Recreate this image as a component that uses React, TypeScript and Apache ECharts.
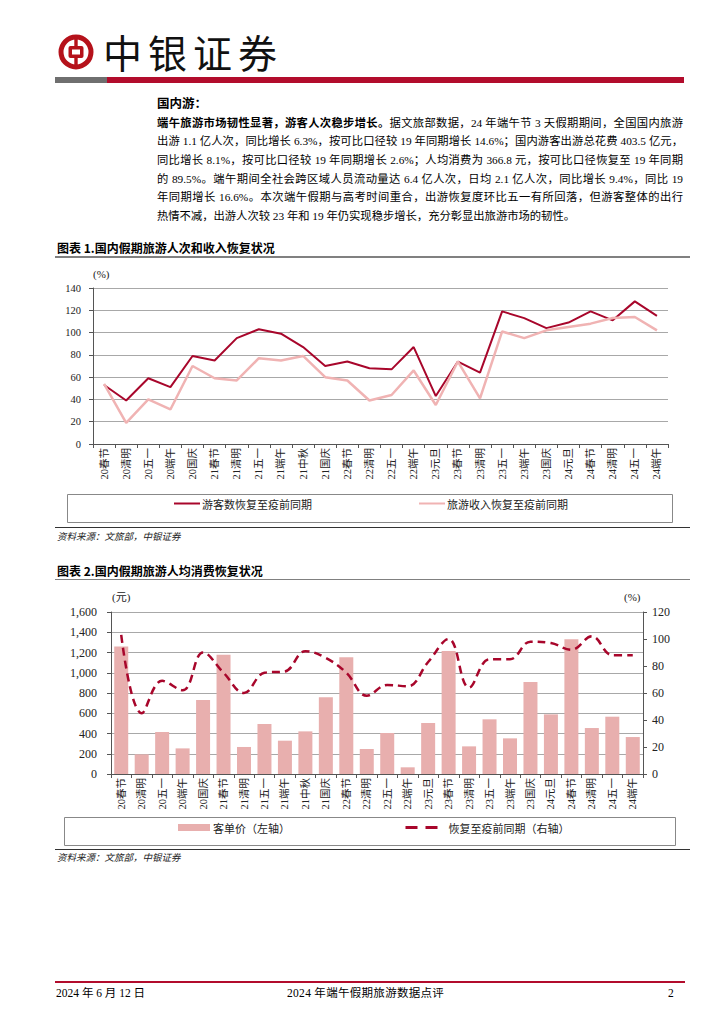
import React, { useEffect, useRef } from "react";
import * as echarts from "echarts";

const categories = ["20春节","20清明","20五一","20端午","20国庆","21春节","21清明","21五一","21端午","21中秋","21国庆","22春节","22清明","22五一","22端午","23元旦","23春节","23清明","23五一","23端午","23国庆","24元旦","24春节","24清明","24五一","24端午"];
const touristRecovery = [53,39,59,51,79,75,95,103,99,87,70,74,68,67,87,43,74,64,119,113,104,109,119,111,128,115];
const revenueRecovery = [54,19,40,31,70,59,57,77,75,79,60,57,39,44,66,35,74,41,101,95,102,105,108,113,114,102];
const perCapitaSpend = [1260,194,415,253,731,1179,267,494,329,421,757,1152,247,405,66,504,1215,273,540,352,909,589,1331,454,566,365];
const spendRecovery = [103,45,69,62,90,75,60,75,76,91,86,75,58,66,65,83,100,64,85,85,98,97,92,102,88,88];
const chart1Ticks = { min: 0, max: 140, interval: 20 };
const chart2LeftTicks = { min: 0, max: 1600, interval: 200 };
const chart2RightTicks = { min: 0, max: 120, interval: 20 };

const FONT = "'Liberation Serif', 'Noto Sans CJK SC', serif";
const CJK = "'Noto Sans CJK SC', sans-serif";
const DARK = "#A8062B";
const LIGHT = "#F0B3B3";
const BAR = "#E8AFAE";

const paraLines = [
  "出游 1.1 亿人次，同比增长 6.3%，按可比口径较 19 年同期增长 14.6%；国内游客出游总花费 403.5 亿元，",
  "同比增长 8.1%，按可比口径较 19 年同期增长 2.6%；人均消费为 366.8 元，按可比口径恢复至 19 年同期",
  "的 89.5%。端午期间全社会跨区域人员流动量达 6.4 亿人次，日均 2.1 亿人次，同比增长 9.4%，同比 19",
  "年同期增长 16.6%。本次端午假期与高考时间重合，出游恢复度环比五一有所回落，但游客整体的出行",
];

function Chart1() {
  const ref = useRef<HTMLDivElement>(null);
  useEffect(() => {
    const chart = echarts.init(ref.current!, null, { renderer: "svg" });
    chart.setOption({
      animation: false,
      grid: { left: 93, right: 56, top: 26, bottom: 84, containLabel: false, outerBoundsMode: "none" },
      xAxis: {
        type: "category",
        data: categories,
        boundaryGap: true,
        axisLine: { lineStyle: { color: "#555", width: 1 } },
        axisTick: { show: true, interval: 0, length: 4, lineStyle: { color: "#555" } },
        axisLabel: { interval: 0, rotate: 90, margin: 4, fontSize: 10.5, color: "#222", fontFamily: FONT },
      },
      yAxis: {
        type: "value",
        ...chart1Ticks,
        axisLine: { show: true, lineStyle: { color: "#555" } },
        axisTick: { show: true, length: 4, lineStyle: { color: "#555" } },
        axisLabel: { fontSize: 10.5, color: "#222", margin: 12, fontFamily: FONT },
        splitLine: { lineStyle: { color: "#a8a8a8", width: 1 } },
      },
      legend: [
        {
          data: ["游客数恢复至疫前同期"], left: 173, top: 236, padding: 0,
          itemWidth: 26, itemHeight: 12, itemStyle: { opacity: 0 },
          textStyle: { fontSize: 11, color: "#222", fontFamily: CJK, padding: [0, 0, 0, -3] },
        },
        {
          data: ["旅游收入恢复至疫前同期"], left: 418, top: 236, padding: 0,
          itemWidth: 26, itemHeight: 12, itemStyle: { opacity: 0 },
          textStyle: { fontSize: 11, color: "#222", fontFamily: CJK, padding: [0, 0, 0, -3] },
        },
      ],
      graphic: [
        { type: "rect", left: 65, top: 230, shape: { width: 605, height: 28 }, style: { fill: "none", stroke: "#888", lineWidth: 1 }, silent: true },
        { type: "text", left: 93, top: 6, style: { text: "(%)", fontSize: 11, fill: "#222", fontFamily: FONT } },
      ],
      series: [
        { name: "游客数恢复至疫前同期", type: "line", data: touristRecovery, symbol: "none", lineStyle: { color: DARK, width: 2 }, itemStyle: { color: DARK } },
        { name: "旅游收入恢复至疫前同期", type: "line", data: revenueRecovery, symbol: "none", lineStyle: { color: LIGHT, width: 2.5 }, itemStyle: { color: LIGHT } },
      ],
    });
    return () => chart.dispose();
  }, []);
  return <div ref={ref} style={{ position: "absolute", left: 0, top: 262, width: 724, height: 266 }} />;
}

function Chart2() {
  const ref = useRef<HTMLDivElement>(null);
  useEffect(() => {
    const chart = echarts.init(ref.current!, null, { renderer: "svg" });
    chart.setOption({
      animation: false,
      grid: { left: 111, right: 81, top: 32, bottom: 74, containLabel: false, outerBoundsMode: "none" },
      xAxis: {
        type: "category",
        data: categories,
        boundaryGap: true,
        axisLine: { lineStyle: { color: "#555", width: 1 } },
        axisTick: { show: true, interval: 0, length: 4, lineStyle: { color: "#555" } },
        axisLabel: { interval: 0, rotate: 90, margin: 4, fontSize: 10.5, color: "#222", fontFamily: FONT },
      },
      yAxis: [
        {
          type: "value",
          ...chart2LeftTicks,
          axisLine: { show: true, lineStyle: { color: "#555" } },
          axisTick: { show: true, length: 4, lineStyle: { color: "#555" } },
          axisLabel: {
            fontSize: 12, color: "#222", margin: 14, fontFamily: FONT,
            formatter: (v: number) => v.toLocaleString("en-US"),
          },
          splitLine: { lineStyle: { color: "#a8a8a8", width: 1 } },
        },
        {
          type: "value",
          ...chart2RightTicks,
          position: "right",
          axisLine: { show: true, lineStyle: { color: "#555" } },
          axisTick: { show: true, length: 4, lineStyle: { color: "#555" } },
          axisLabel: { fontSize: 12, color: "#222", margin: 9, fontFamily: FONT },
          splitLine: { show: false },
        },
      ],
      legend: [
        {
          data: [{ name: "客单价（左轴）", icon: "rect" }], left: 178, top: 242, padding: 0,
          itemWidth: 32, itemHeight: 7,
          textStyle: { fontSize: 11, color: "#222", fontFamily: CJK, padding: [0, 0, 0, -2] },
        },
        {
          data: ["恢复至疫前同期（右轴）"], left: 404, top: 242, padding: 0,
          itemWidth: 36, itemHeight: 7, itemStyle: { opacity: 0 },
          lineStyle: { type: [12, 8], width: 3 },
          textStyle: { fontSize: 11, color: "#222", fontFamily: CJK, padding: [0, 0, 0, 2] },
        },
      ],
      graphic: [
        { type: "rect", left: 62, top: 235, shape: { width: 611, height: 28 }, style: { fill: "none", stroke: "#888", lineWidth: 1 }, silent: true },
        { type: "text", left: 112, top: 11, style: { text: "(元)", fontSize: 11, fill: "#222", fontFamily: FONT } },
        { type: "text", left: 624, top: 11, style: { text: "(%)", fontSize: 11, fill: "#222", fontFamily: FONT } },
      ],
      series: [
        { name: "客单价（左轴）", type: "bar", data: perCapitaSpend, yAxisIndex: 0, barWidth: 14, itemStyle: { color: BAR } },
        {
          name: "恢复至疫前同期（右轴）", type: "line", data: spendRecovery, yAxisIndex: 1,
          symbol: "none", smooth: 0.4,
          lineStyle: { color: DARK, width: 2.5, type: [8, 5] }, itemStyle: { color: DARK },
        },
      ],
    });
    return () => chart.dispose();
  }, []);
  return <div ref={ref} style={{ position: "absolute", left: 0, top: 580, width: 724, height: 268 }} />;
}

function Logo() {
  return (
    <svg width={40} height={40} viewBox="0 0 40 40" style={{ position: "absolute", left: 56, top: 32 }}>
      <circle cx={20} cy={20} r={15} fill="none" stroke="#B5121B" strokeWidth={5} />
      <rect x={18.3} y={3} width={3.4} height={34} fill="#B5121B" />
      <rect x={12.5} y={14} width={15} height={12} rx={2} fill="#B5121B" />
      <rect x={16} y={17.5} width={8} height={5} fill="#fff" />
    </svg>
  );
}

export default function App() {
  const body: React.CSSProperties = { fontFamily: FONT, color: "#000" };
  return (
    <div style={{ position: "absolute", left: 0, top: 0, width: 724, height: 1024, background: "#fff", overflow: "hidden", ...body }}>
      <Logo />
      <div style={{ position: "absolute", left: 103, top: 27, fontFamily: CJK, fontSize: 39, letterSpacing: 6, lineHeight: "48px", color: "#111" }}>中银证券</div>
      <div style={{ position: "absolute", left: 55, top: 77, width: 52, height: 6, background: "#6f6f6f" }} />
      <div style={{ position: "absolute", left: 107, top: 77, width: 577, height: 6, background: "#B20C2C" }} />

      <div style={{ position: "absolute", left: 157, top: 94, fontFamily: CJK, fontWeight: 700, fontSize: 12.5, lineHeight: "18px" }}>国内游：</div>
      <div style={{ position: "absolute", left: 157, top: 113, width: 526, fontSize: 11.3, lineHeight: "18px", textAlign: "justify", textAlignLast: "justify" as any }}>
        <span style={{ fontWeight: 700, fontFamily: CJK }}>端午旅游市场韧性显著，游客人次稳步增长。</span>据文旅部数据，24 年端午节 3 天假期期间，全国国内旅游
      </div>
      {paraLines.map((t, i) => (
        <div key={i} style={{ position: "absolute", left: 157, top: 132 + i * 18.8, width: 526, fontSize: 11.3, lineHeight: "18px", textAlign: "justify", textAlignLast: "justify" as any }}>{t}</div>
      ))}
      <div style={{ position: "absolute", left: 157, top: 207, width: 526, fontSize: 11.3, lineHeight: "18px" }}>
        热情不减，出游人次较 23 年和 19 年仍实现稳步增长，充分彰显出旅游市场的韧性。
      </div>

      <div style={{ position: "absolute", left: 57, top: 240, fontFamily: CJK, fontWeight: 700, fontSize: 12, lineHeight: "16px" }}>图表 1.国内假期旅游人次和收入恢复状况</div>
      <div style={{ position: "absolute", left: 55, top: 256, width: 635, height: 1.5, background: "#808080" }} />
      <Chart1 />
      <div style={{ position: "absolute", left: 55, top: 527, width: 635, height: 1, background: "#333" }} />
      <div style={{ position: "absolute", left: 57, top: 530, fontFamily: CJK, fontStyle: "italic", fontSize: 9.5, lineHeight: "13px", color: "#222" }}>资料来源：文旅部，中银证券</div>

      <div style={{ position: "absolute", left: 57, top: 563, fontFamily: CJK, fontWeight: 700, fontSize: 12, lineHeight: "16px" }}>图表 2.国内假期旅游人均消费恢复状况</div>
      <div style={{ position: "absolute", left: 55, top: 578.5, width: 635, height: 1.5, background: "#808080" }} />
      <Chart2 />
      <div style={{ position: "absolute", left: 55, top: 849, width: 635, height: 1, background: "#333" }} />
      <div style={{ position: "absolute", left: 57, top: 851, fontFamily: CJK, fontStyle: "italic", fontSize: 9.5, lineHeight: "13px", color: "#222" }}>资料来源：文旅部，中银证券</div>

      <div style={{ position: "absolute", left: 55, top: 981, width: 630, height: 1.5, background: "#B20C2C" }} />
      <div style={{ position: "absolute", left: 56, top: 985, fontSize: 11.5, lineHeight: "16px" }}>2024 年 6 月 12 日</div>
      <div style={{ position: "absolute", left: 287, top: 985, fontSize: 11.5, lineHeight: "16px", letterSpacing: 0.3 }}>2024 年端午假期旅游数据点评</div>
      <div style={{ position: "absolute", left: 668, top: 985, fontSize: 11.5, lineHeight: "16px" }}>2</div>
    </div>
  );
}
